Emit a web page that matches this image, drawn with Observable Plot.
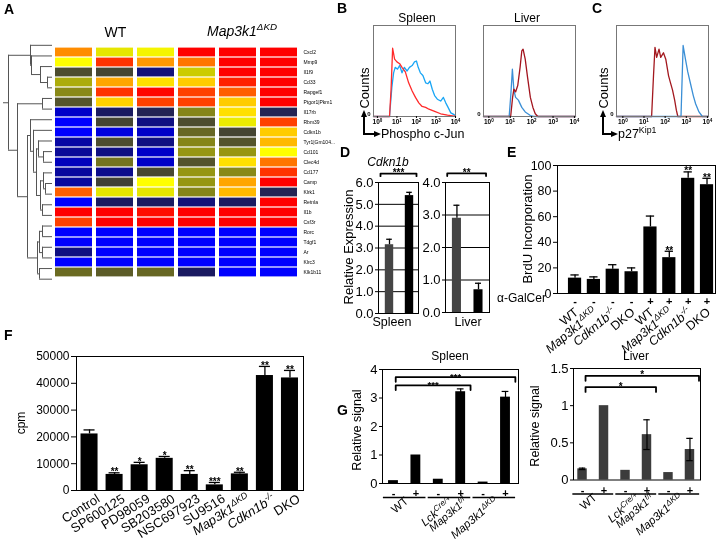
<!DOCTYPE html>
<html>
<head>
<meta charset="utf-8">
<script src="https://cdn.jsdelivr.net/npm/d3@7"></script>
<script src="https://cdn.jsdelivr.net/npm/@observablehq/plot@0.6"></script>
<style>
  html, body { margin: 0; padding: 0; background: #fff; }
  #fig { position: relative; width: 718px; height: 540px; overflow: hidden; background: #fff;
         font-family: "Liberation Sans", Arial, Helvetica, sans-serif; color: #000; }
  .t { position: absolute; white-space: nowrap; line-height: 1; }
  .t sup { font-size: 70%; vertical-align: super; line-height: 0; }
  #fig svg { position: absolute; overflow: visible; background: transparent; will-change: transform; }
</style>
</head>
<body>
<div id="fig"></div>
<script>
// ======================= DATA =======================
// ---- A: heatmap ----
const genes = ["Cxcl2","Mmp9","Il1f9","Cd33","Rapgef1","Ptgor1|Pkm1","Il17rb","Rbm39","Cdkn1b","Tyr1|Gm104...",
  "Cd101","Clec4d","Cd177","Camp","Klrk1","Retnla","Il1b","Csf3r","Rorc","Tdgf1","Ar","Klrc3","Klk1b11"];
const samples = ["WT-1","WT-2","WT-3","KD-1","KD-2","KD-3"];
// relative expression level (0 = lowest / blue ... 6 = highest / red)
const expr = [
  [5.0, 3.75, 3.9, 6, 6, 6],
  [4.0, 5.6, 4.9, 5.15, 6, 6],
  [2.1, 2.0, 1.2, 3.5, 6, 6],
  [3.2, 4.8, 4.3, 4.5, 5.75, 6],
  [2.85, 5.6, 5.95, 5.5, 5.3, 6],
  [2.2, 4.45, 5.5, 5.5, 4.5, 6],
  [0.5, 1.45, 1.6, 2.8, 4.3, 1.6],
  [0.0, 2.0, 1.1, 2.1, 3.8, 5.5],
  [0.0, 0.3, 0.5, 2.45, 2.0, 4.5],
  [0.8, 2.1, 1.1, 2.8, 2.2, 4.65],
  [0.9, 1.1, 0.5, 3.0, 3.0, 4.0],
  [0.6, 2.6, 0.5, 2.2, 4.3, 5.15],
  [0.85, 1.0, 2.05, 3.0, 2.85, 5.6],
  [0.85, 1.95, 4.0, 3.0, 4.8, 6],
  [5.3, 3.75, 3.75, 2.8, 4.65, 1.6],
  [0.0, 1.45, 1.45, 1.2, 1.45, 6],
  [6, 6, 5.9, 6, 6, 6],
  [5.5, 6, 6, 6, 6, 6],
  [0, 0, 0, 0, 0, 0],
  [0, 0, 0, 0, 0, 0],
  [1.1, 0, 0, 0, 0, 0],
  [0, 0, 0, 0, 0, 0],
  [2.5, 2.3, 2.45, 1.45, 0, 0]
];
// dendrogram: [merge height, child, child]
const dendrogram = [49,
  [44,
    [35,
      [25,
        [15, [13, "Cxcl2", "Mmp9"], [13, [10, "Il1f9", "Cd33"], [10, "Rapgef1", "Ptgor1|Pkm1"]]],
        [22, [19, [16, [12, [10, "Il17rb", "Rbm39"], [9, [7, "Cdkn1b", "Tyr1|Gm104..."], "Cd101"]],
                       [14, [9, "Clec4d", "Cd177"], "Camp"]], "Klrk1"], "Retnla"]
      ],
      [10, "Il1b", "Csf3r"]
    ],
    [22, [21, [12, [5, "Rorc", "Tdgf1"], "Ar"], "Klrc3"], "Klk1b11"]
  ]
];

// ---- B / C: flow histograms  [log10 fluorescence, % of max count] ----
const spleenRed = [[-0.2,0],[0.62,0],[0.7,30],[0.78,75],[0.88,63],[1.0,60],[1.14,58],[1.26,54],[1.43,49],[1.6,37],
  [1.78,28],[1.95,21],[2.12,15],[2.29,11],[2.47,10],[2.64,8],[2.9,6],[3.24,3],[3.59,1.5],[3.93,0.4],[4.0,0]];
const spleenBlue = [[-0.2,0],[0.62,0],[0.74,32],[0.83,48],[0.91,54],[1.03,52],[1.14,56],[1.26,48],[1.38,54],[1.52,50],
  [1.64,54],[1.78,56],[1.9,60],[2.0,61],[2.09,54],[2.2,48],[2.33,45],[2.47,37],[2.59,36],[2.69,39],[2.81,30],[2.93,23],
  [3.07,19],[3.24,17],[3.38,21],[3.5,15],[3.62,10],[3.76,4],[3.93,2],[4.0,0.5]];
const liverBlue = [[-0.25,0],[0.95,0],[1.03,25],[1.1,52],[1.17,29],[1.25,21],[1.38,18],[1.54,10],[1.7,5],[1.94,1],[2.1,0],[4.05,0]];
const liverRed = [[-0.25,0],[1.02,0],[1.11,21],[1.17,30],[1.25,27],[1.35,34],[1.46,54],[1.54,72],[1.6,74],[1.7,63],
  [1.81,43],[1.94,21],[2.06,10],[2.17,3],[2.29,0],[4.05,0]];
const p27Red = [[-0.3,0],[1.36,0],[1.45,45],[1.52,76],[1.6,65],[1.71,74],[1.79,65],[1.92,70],[2.03,63],[2.16,45],
  [2.24,38],[2.35,29],[2.45,18],[2.53,7],[2.6,0],[4.05,0]];
const p27Blue = [[-0.3,0],[2.75,0],[2.85,78],[2.96,63],[3.07,49],[3.2,36],[3.33,23],[3.44,14],[3.6,5],[3.76,0],[4.05,0]];
const flowTicks = [0, 1, 2, 3, 4];

// ---- D: Cdkn1b relative expression (WT, Map3k1 dKD) ----
const dSpleen = [3.15, 5.4];
const dSpleenErr = [3.4, 5.55];
const dLiver = [2.9, 0.7];
const dLiverErr = [3.3, 0.9];
const dSpleenSig = [{a: 0, b: 1, y: 6.41, label: "***"}];
const dLiverSig = [{a: 0, b: 1, y: 4.28, label: "**"}];

// ---- E: BrdU incorporation ----
const eGenotypes = ["WT","Map3k1^{ΔKD}","Cdkn1b^{-/-}","DKO","WT","Map3k1^{ΔKD}","Cdkn1b^{-/-}","DKO"];
const eGalCer = ["-","-","-","-","+","+","+","+"];
const eBrdU = [12, 11, 19, 17, 52, 28, 90, 85];
const eBrdUErr = [14.5, 13, 22.5, 20, 60.5, 33, 95, 90];
const eSig = ["","","","","","**","**","**"];

// ---- F: proliferation (cpm) ----
const fLabels = ["Control","SP600125","PD98059","SB203580","NSC697923","SU9516","Map3k1^{ΔKD}","Cdkn1b^{-/-}","DKO"];
const fCpm = [21100, 6000, 9600, 12000, 6000, 2100, 6200, 42900, 42000];
const fCpmErr = [22600, 6600, 10500, 12700, 7400, 3000, 6800, 46300, 44800];
const fSig = ["","**","*","*","**","***","**","**","**"];

// ---- G: relative signal ----
const gSigns = ["-","+","-","+","-","+"];
const gGroupLine1 = ["WT","Lck^{Cre/+}","Map3k1^{ΔKD}"];
const gGroupLine2 = ["","Map3k1^{f/f}",""];
const gSpleen = [0.1, 1.0, 0.15, 3.22, 0.05, 3.03];
const gSpleenErr = [0, 0, 0, 0.1, 0, 0.2];
const gSpleenSig = [{a: 0, b: 3, y: 3.44, label: "***"}, {a: 0, b: 5, y: 3.73, label: "***"}];
const gLiver = [0.15, 1.0, 0.13, 0.61, 0.1, 0.41];
const gLiverErr = [0.01, 0, 0, 0.2, 0, 0.15];
const gLiverSig = [{a: 0, b: 3, y: 1.25, label: "*"}, {a: 0, b: 5, y: 1.4, label: "*"}];

// ======================= HELPERS =======================
const fig = document.getElementById("fig");
const FONT = "'Liberation Sans', Arial, Helvetica, sans-serif";
const baseStyle = {fontFamily: FONT, background: "transparent", overflow: "visible", color: "#000"};
const isItalicName = s => /^(Map3k1|Cdkn1b|Lck)/.test(s);

function place(svg, left, top) {
  svg.style.left = left + "px";
  svg.style.top = top + "px";
  fig.appendChild(svg);
}
function txt(html, x, y, o = {}) {
  const d = document.createElement("div");
  d.className = "t";
  d.innerHTML = html;
  d.style.left = x + "px";
  d.style.top = y + "px";
  d.style.fontSize = (o.size || 12) + "px";
  if (o.weight) d.style.fontWeight = o.weight;
  if (o.italic) d.style.fontStyle = "italic";
  const tx = o.anchor === "start" ? "0" : "-50%";
  d.style.transform = `translate(${tx}, -50%)` + (o.rotate ? ` rotate(${o.rotate}deg)` : "");
  fig.appendChild(d);
}
function block(left, top, w, h) {
  const d = document.createElement("div");
  d.style.cssText = `position:absolute;left:${left}px;top:${top}px;width:${w}px;height:${h}px;background:#000;`;
  fig.appendChild(d);
}
function triUp(cx, top, w, h) {
  const d = document.createElement("div");
  d.style.cssText = `position:absolute;left:${cx - w / 2}px;top:${top}px;width:0;height:0;` +
    `border-left:${w / 2}px solid transparent;border-right:${w / 2}px solid transparent;border-bottom:${h}px solid #000;`;
  fig.appendChild(d);
}
function triRight(left, cy, w, h) {
  const d = document.createElement("div");
  d.style.cssText = `position:absolute;left:${left}px;top:${cy - h / 2}px;width:0;height:0;` +
    `border-top:${h / 2}px solid transparent;border-bottom:${h / 2}px solid transparent;border-left:${w}px solid #000;`;
  fig.appendChild(d);
}
function axisArrows(x, yTop, yCorner, xRight) {
  block(x - 1, yTop + 5, 2, yCorner - yTop - 4);
  triUp(x, yTop, 7, 7);
  block(x - 1, yCorner - 1, xRight - x - 5, 2);
  triRight(xRight - 6, yCorner, 7, 7);
}
// significance brackets drawn in data space of a bar chart
function brackets(cmps, {tick, padL, padR, fontSize = 10}) {
  const pts = cmps.flatMap((c, k) => [
    {k, x: c.a + padL, y: c.y - tick}, {k, x: c.a + padL, y: c.y},
    {k, x: c.b + padR, y: c.y}, {k, x: c.b + padR, y: c.y - tick}]);
  return [
    Plot.line(pts, {x: "x", y: "y", z: "k", stroke: "#000", strokeWidth: 1.8}),
    Plot.text(cmps, {x: c => (c.a + padL + c.b + padR) / 2, y: "y", text: "label", lineAnchor: "bottom",
      dy: 2.5, fontSize, fontWeight: "bold", fill: "#000"})
  ];
}
function errorBars(data, half, width = 1.2) {
  const d2 = data.filter(d => d.err > 0);
  return [
    Plot.ruleX(d2, {x: "i", y1: d => d.v - (d.sym ? d.err : 0), y2: d => d.v + d.err, stroke: "#000", strokeWidth: width}),
    Plot.ruleY(d2, {y: d => d.v + d.err, x1: d => d.i - half, x2: d => d.i + half, stroke: "#000", strokeWidth: width}),
    Plot.ruleY(d2.filter(d => d.sym), {y: d => d.v - d.err, x1: d => d.i - half, x2: d => d.i + half, stroke: "#000", strokeWidth: width})
  ];
}
const starText = (data, yfn, fontSize) => Plot.text(data.filter(d => d.sig), {x: "i", y: yfn, text: "sig",
  lineAnchor: "bottom", dy: 2.5, fontSize, fontWeight: "bold", fill: "#000"});

// ======================= A: heatmap + dendrogram =======================
const heatStops = ["#0000ff","#0000c8","#0c0c8c","#1c1c5c","#454532","#6b6b22","#969612",
                   "#cccc00","#ffff00","#ffcc00","#ff8c00","#ff4000","#ff0000"];
const cells = genes.flatMap((g, i) => samples.map((s, j) => ({gene: g, sample: s, v: expr[i][j]})));
place(Plot.plot({
  width: 340, height: 290, marginLeft: 52, marginRight: 40, marginTop: 39.5, marginBottom: 6,
  style: baseStyle,
  x: {domain: samples, padding: 0, axis: null},
  y: {domain: genes, padding: 0},
  color: {type: "linear", domain: [0, 6], interpolate: d3.piecewise(d3.interpolateRgb, heatStops)},
  marks: [
    Plot.cell(cells, {x: "sample", y: "gene", fill: "v", insetLeft: 2, insetRight: 2, insetTop: 0.6, insetBottom: 0.6}),
    Plot.axisY({anchor: "right", tickSize: 0, tickPadding: 3, fontSize: 5, label: null})
  ]
}), 0, 0);

const hSegs = [], vSegs = [];
function layoutTree(node) {
  if (typeof node === "string") return {y: genes.indexOf(node), h: 0};
  const [h, ...kids] = node;
  const ks = kids.map(layoutTree);
  ks.forEach(k => hSegs.push({y: k.y, x1: k.h, x2: h}));
  if (ks.length > 1) vSegs.push({x: h, y1: d3.min(ks, k => k.y), y2: d3.max(ks, k => k.y)});
  return {y: d3.mean(ks, k => k.y), h};
}
layoutTree(dendrogram);
place(Plot.plot({
  width: 53, height: 290, marginLeft: 3, marginRight: 1, marginTop: 39.5, marginBottom: 6,
  style: baseStyle,
  x: {domain: [49, 0], axis: null},
  y: {domain: [-0.5, genes.length - 0.5], axis: null},
  marks: [
    Plot.ruleY(hSegs, {y: "y", x1: "x1", x2: "x2", stroke: "#555", strokeWidth: 1}),
    Plot.ruleX(vSegs, {x: "x", y1: "y1", y2: "y2", stroke: "#555", strokeWidth: 1})
  ]
}), 0, 0);

// ======================= B / C: flow histograms =======================
function flowPlot(series, domain, dims) {
  return Plot.plot({
    ...dims, style: baseStyle,
    x: {domain, axis: null},
    y: {domain: [0, 100], axis: null},
    marks: [
      ...series.map(s => Plot.line(s.pts, {x: d => d[0], y: d => d[1], stroke: s.color, strokeWidth: 1.3})),
      Plot.frame({stroke: "#777"}),
      Plot.axisX({ticks: flowTicks, tickFormat: d => `10^{${d}}`, tickSize: 2, tickPadding: 1, fontSize: 6.5,
        fontWeight: "bold", label: null}),
      Plot.axisY({ticks: [0], tickSize: 0, tickPadding: 3, fontSize: 6, fontWeight: "bold", label: null, dy: -2})
    ]
  });
}
place(flowPlot([{pts: spleenBlue, color: "#1aa6f5"}, {pts: spleenRed, color: "#ff2a2a"}], [-0.2, 4.0],
  {width: 130, height: 145, marginLeft: 33, marginRight: 15, marginTop: 25, marginBottom: 29}), 340, 0);
place(flowPlot([{pts: liverBlue, color: "#3b8fd6"}, {pts: liverRed, color: "#a3141e"}], [-0.25, 4.05],
  {width: 120, height: 145, marginLeft: 13, marginRight: 15, marginTop: 25, marginBottom: 29}), 470, 0);
place(flowPlot([{pts: p27Red, color: "#a3181e"}, {pts: p27Blue, color: "#3b8fd6"}], [-0.3, 4.05],
  {width: 118, height: 145, marginLeft: 16, marginRight: 10, marginTop: 25, marginBottom: 29}), 600, 0);

// ======================= D: Cdkn1b expression =======================
function dPlot(vals, errs, sig, yMax, xDomain, dims) {
  const data = vals.map((v, i) => ({i, v, err: errs[i] - v}));
  return Plot.plot({
    ...dims, style: baseStyle,
    x: {domain: xDomain, axis: null},
    y: {domain: [0, yMax], axis: null},
    marks: [
      Plot.ruleY(d3.range(0, yMax + 1), {stroke: "#000", strokeWidth: 1}),
      Plot.rect(data.filter(d => d.i === 0), {x1: d => d.i - 0.21, x2: d => d.i + 0.21, y1: 0, y2: "v", fill: "#454545"}),
      Plot.rect(data.filter(d => d.i === 1), {x1: d => d.i - 0.21, x2: d => d.i + 0.21, y1: 0, y2: "v", fill: "#000"}),
      ...errorBars(data, 0.14, 1.3),
      Plot.frame({stroke: "#000"}),
      Plot.axisY({ticks: d3.range(0, yMax + 1), tickSize: 3, tickPadding: 2, fontSize: 13, label: null}),
      ...brackets(sig, {tick: yMax * 0.02, padL: -0.45, padR: 0.35, fontSize: 10})
    ]
  });
}
place(dPlot(dSpleen, dSpleenErr, dSpleenSig, 6, [-0.55, 1.45],
  {width: 90, height: 200, marginLeft: 38, marginRight: 12, marginTop: 42, marginBottom: 27}), 340, 140);
place(dPlot(dLiver, dLiverErr, dLiverSig, 4, [-0.53, 1.51],
  {width: 80, height: 200, marginLeft: 20, marginRight: 16, marginTop: 42, marginBottom: 28}), 425, 140);

// ======================= E: BrdU =======================
const eData = eBrdU.map((v, i) => ({i, v, err: eBrdUErr[i] - v, sign: eGalCer[i], g: eGenotypes[i], sig: eSig[i]}));
place(Plot.plot({
  width: 228, height: 220, marginLeft: 67, marginRight: 3, marginTop: 25, marginBottom: 67,
  style: baseStyle,
  x: {domain: [-0.93, 7.45], axis: null},
  y: {domain: [0, 100], axis: null},
  marks: [
    Plot.rect(eData, {x1: d => d.i - 0.35, x2: d => d.i + 0.35, y1: 0, y2: "v", fill: "#000"}),
    ...errorBars(eData, 0.22, 1.3),
    starText(eData, d => d.v + d.err, 10),
    Plot.frame({stroke: "#000"}),
    Plot.axisY({ticks: d3.range(0, 101, 20), tickSize: 4, tickPadding: 2, fontSize: 12.5, label: null}),
    Plot.text(eData, {x: "i", y: () => 0, text: "sign", dy: 8, fontSize: 11, fontWeight: "bold", fill: "#000"}),
    Plot.text(eData.filter(d => !isItalicName(d.g)), {x: "i", y: () => 0, text: "g", rotate: -40, textAnchor: "end",
      dx: 1.5, dy: 17, fontSize: 12.5}),
    Plot.text(eData.filter(d => isItalicName(d.g)), {x: "i", y: () => 0, text: "g", rotate: -40, textAnchor: "end",
      dx: 1.5, dy: 17, fontSize: 12.5, fontStyle: "italic"})
  ]
}), 490, 140);

// ======================= F: cpm =======================
const fData = fCpm.map((v, i) => ({i, v, err: fCpmErr[i] - v, name: fLabels[i], sig: fSig[i]}));
place(Plot.plot({
  width: 310, height: 200, marginLeft: 76, marginRight: 7, marginTop: 16, marginBottom: 50,
  style: baseStyle,
  x: {domain: [-0.52, 8.54], axis: null},
  y: {domain: [0, 50000], axis: null},
  marks: [
    Plot.rect(fData, {x1: d => d.i - 0.34, x2: d => d.i + 0.34, y1: 0, y2: "v", fill: "#000"}),
    ...errorBars(fData, 0.22, 1.3),
    starText(fData, d => d.v + d.err, 10),
    Plot.frame({stroke: "#000"}),
    Plot.axisY({ticks: d3.range(0, 50001, 10000), tickFormat: d => String(d), tickSize: 5, tickPadding: 2,
      fontSize: 12, label: null}),
    Plot.text(fData.filter(d => !isItalicName(d.name)), {x: "i", y: () => 0, text: "name", rotate: -32,
      textAnchor: "end", dx: 9, dy: 7, fontSize: 13}),
    Plot.text(fData.filter(d => isItalicName(d.name)), {x: "i", y: () => 0, text: "name", rotate: -32,
      textAnchor: "end", dx: 9, dy: 7, fontSize: 13, fontStyle: "italic"})
  ]
}), 0, 340);

// ======================= G: relative signal =======================
function gPlot(vals, errs, sig, yMax, yTicks, xDomain, fill, dims, bracketOpts) {
  const data = vals.map((v, i) => ({i, v, err: errs[i], sym: true, sign: gSigns[i]}));
  const groups = gGroupLine1.map((l1, k) => ({k, l1, l2: gGroupLine2[k]}));
  const gx = g => 2 * g.k + 0.5;
  const labelMarks = (key, dx, dy, fontSize) => [
    Plot.text(groups.filter(g => g[key] && !isItalicName(g[key])), {x: gx, y: () => 0, text: key, rotate: -40,
      textAnchor: "end", dx, dy, fontSize}),
    Plot.text(groups.filter(g => g[key] && isItalicName(g[key])), {x: gx, y: () => 0, text: key, rotate: -40,
      textAnchor: "end", dx, dy, fontSize, fontStyle: "italic"})
  ];
  return Plot.plot({
    ...dims, style: baseStyle,
    x: {domain: xDomain, axis: null},
    y: {domain: [0, yMax], axis: null},
    marks: [
      Plot.rect(data, {x1: d => d.i - 0.22, x2: d => d.i + 0.22, y1: 0, y2: "v", fill}),
      ...errorBars(data, 0.15, 1.2),
      ...brackets(sig, bracketOpts),
      Plot.frame({stroke: "#000"}),
      Plot.axisY({ticks: yTicks, tickFormat: d => String(d), tickSize: 3, tickPadding: 2, fontSize: 13, label: null}),
      Plot.text(data, {x: "i", y: () => 0, text: "sign", dy: 10, fontSize: 11, fontWeight: "bold", fill: "#000"}),
      Plot.ruleY(groups, {y: () => 0, x1: g => 2 * g.k - 0.45, x2: g => 2 * g.k + 1.45, dy: 14, stroke: "#000",
        strokeWidth: 1.6}),
      ...labelMarks("l1", 2, 16, 11.5),
      ...labelMarks("l2", 16, 16.5, 11)
    ]
  });
}
place(gPlot(gSpleen, gSpleenErr, gSpleenSig, 4, [0, 1, 2, 3, 4], [-0.49, 5.58], "#000",
  {width: 190, height: 195, marginLeft: 42, marginRight: 12, marginTop: 24, marginBottom: 57},
  {tick: 0.16, padL: 0.1, padR: 0.44, fontSize: 9.5}), 340, 345);
place(gPlot(gLiver, gLiverErr, gLiverSig, 1.5, [0, 0.5, 1, 1.5], [-0.42, 5.49], "#3c3c3c",
  {width: 188, height: 195, marginLeft: 43, marginRight: 18, marginTop: 23, marginBottom: 60.5},
  {tick: 0.065, padL: 0.14, padR: 0.42, fontSize: 10}), 530, 345);

// ======================= HTML text / annotations =======================
// panel letters
[["A", 4, 9], ["B", 337, 8], ["C", 592, 8], ["D", 340, 152], ["E", 507, 152], ["F", 4, 335], ["G", 337, 410]]
  .forEach(([l, x, y]) => txt(l, x, y, {anchor: "start", size: 14, weight: "bold"}));
// A headers
txt("WT", 115.5, 32, {size: 14});
txt("Map3k1<sup>ΔKD</sup>", 242, 31, {size: 14, italic: true});
// B / C
txt("Spleen", 417, 18, {size: 12});
txt("Liver", 527, 18, {size: 12});
txt("Counts", 364, 88, {size: 13, rotate: -90});
txt("Counts", 603, 88, {size: 13, rotate: -90});
axisArrows(364, 110, 134, 380);
axisArrows(603, 110, 134, 617);
txt("Phospho c-Jun", 381, 134, {anchor: "start", size: 12.5});
txt("p27<sup>Kip1</sup>", 618, 134, {anchor: "start", size: 12.5});
// D
txt("Cdkn1b", 388, 161.5, {size: 12, italic: true});
txt("Relative Expression", 348, 247, {size: 13, rotate: -90});
txt("Spleen", 392, 322, {size: 12.5});
txt("Liver", 468, 322, {size: 12.5});
// E
txt("BrdU Incorporation", 527, 229, {size: 13, rotate: -90});
txt("α-GalCer", 497, 298, {anchor: "start", size: 12});
// F
txt("cpm", 21, 423, {size: 12, rotate: -90});
// G
txt("Spleen", 450, 356, {size: 12});
txt("Liver", 636, 356, {size: 12});
txt("Relative signal", 357, 430, {size: 12.5, rotate: -90});
txt("Relative signal", 535, 426, {size: 12.5, rotate: -90});

// ======================= superscripts in SVG text =======================
(function supify(root) {
  const re = /\^\{([^}]*)\}/g;
  const walker = document.createTreeWalker(root, NodeFilter.SHOW_TEXT);
  const nodes = [];
  while (walker.nextNode()) if (walker.currentNode.data.includes("^{")) nodes.push(walker.currentNode);
  for (const tn of nodes) {
    const s = tn.data, frag = document.createDocumentFragment();
    let last = 0, m;
    re.lastIndex = 0;
    while ((m = re.exec(s))) {
      if (m.index > last) frag.appendChild(document.createTextNode(s.slice(last, m.index)));
      const t = document.createElementNS("http://www.w3.org/2000/svg", "tspan");
      t.setAttribute("font-size", "70%");
      t.setAttribute("baseline-shift", "super");
      t.textContent = m[1];
      frag.appendChild(t);
      last = m.index + m[0].length;
    }
    if (last < s.length) frag.appendChild(document.createTextNode(s.slice(last)));
    tn.parentNode.replaceChild(frag, tn);
  }
})(fig);
</script>
</body>
</html>
